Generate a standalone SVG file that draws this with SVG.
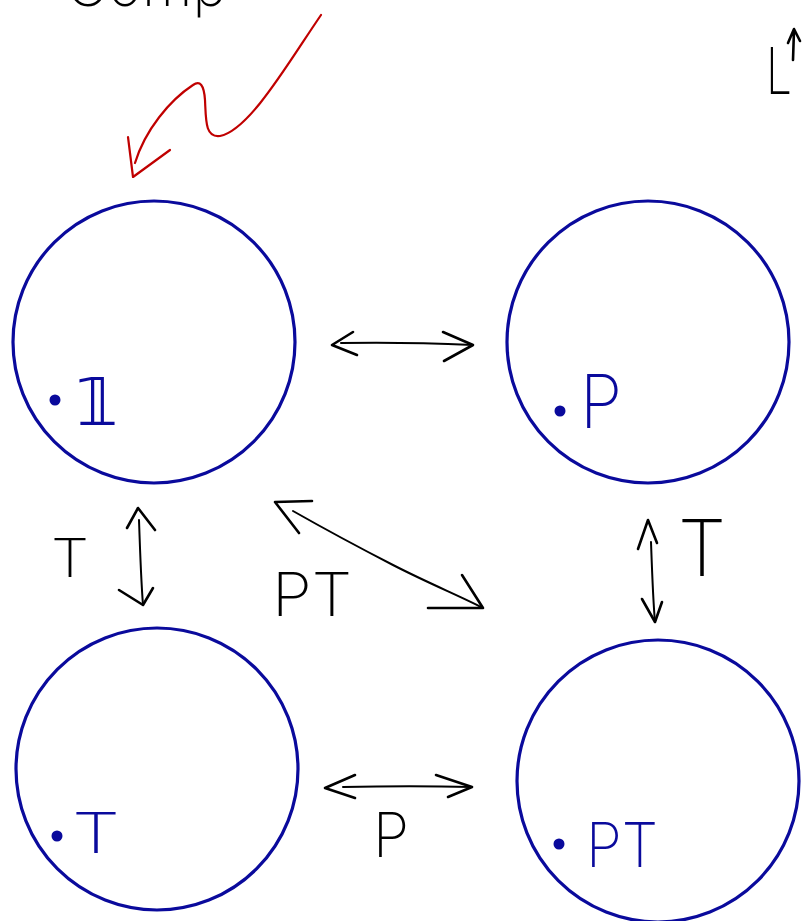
<svg xmlns="http://www.w3.org/2000/svg" width="802" height="921" viewBox="0 0 802 921">
<style>
.node{fill:none;stroke:#0a0a9c;stroke-width:3.2}
.dot{fill:#0a0a9c;stroke:#0a0a9c;stroke-width:3}
.bl{fill:#0a0a9c;font-family:Inter,"Open Sans","Liberation Sans",sans-serif;font-weight:200}
.k{fill:#000;font-family:Inter,"Open Sans","Liberation Sans",sans-serif;font-weight:200}
.c{fill:none;stroke:#000;stroke-width:2;stroke-linecap:round;stroke-linejoin:round}
.h{fill:none;stroke:#000;stroke-width:2.6;stroke-linecap:round;stroke-linejoin:round}
.r{fill:none;stroke:#c00000;stroke-width:2.2;stroke-linecap:round;stroke-linejoin:round}
</style>
<rect width="802" height="921" fill="#fff"/>
<g id="annotations">
<text class="k" x="66" y="6" font-size="58">Comp</text>
<text class="k" x="766" y="94" font-size="64" textLength="26" lengthAdjust="spacingAndGlyphs">L</text>
<path class="h" d="M793,60 L794,30 M788,43 L794,29 L800,41"/>
<path class="r" d="M321,15 C290,60 250,130 220,136 C205,138 206,120 205,100 C204,85 200,80 193,85 C170,100 145,130 135,163"/>
<path class="r" d="M128,137 L133,177 L170,150"/>
</g>
<g id="node-1">
<circle class="node" cx="154" cy="342" r="141"/>
<circle class="dot" cx="55" cy="400" r="4"/>
<text class="bl" x="76" y="425" font-size="66" font-family="DejaVu Sans" font-weight="normal">𝟙</text>
</g>
<g id="node-P">
<circle class="node" cx="648" cy="342" r="141"/>
<circle class="dot" cx="560" cy="411" r="4"/>
<text class="bl" x="580" y="428" font-size="74" textLength="42" lengthAdjust="spacingAndGlyphs">P</text>
</g>
<g id="node-T">
<circle class="node" cx="157" cy="769" r="141"/>
<circle class="dot" cx="57" cy="836" r="4"/>
<text class="bl" x="72" y="853" font-size="56" textLength="48" lengthAdjust="spacingAndGlyphs">T</text>
</g>
<g id="node-PT">
<circle class="node" cx="658" cy="781" r="141"/>
<circle class="dot" cx="559" cy="844" r="4"/>
<text class="bl" x="586" y="867" font-size="62" textLength="72" lengthAdjust="spacingAndGlyphs">PT</text>
</g>
<g id="connectors">
<path class="c" d="M341,343 C390,342 430,343 473,345"/>
<path class="h" d="M353,332 L332,345 L357,355"/>
<path class="h" d="M443,332 L473,345 L444,361"/>
<path class="c" d="M343,787 C390,786 430,786 472,787"/>
<path class="h" d="M355,775 L325,788 L355,798"/>
<path class="h" d="M436,775 L472,787 L448,797"/>
<path class="c" d="M293,511 C330,532 360,548 393,565 C430,584 460,596 483,608"/>
<path class="h" d="M312,501 L275,502 L299,533"/>
<path class="h" d="M462,575 L483,608 L428,608"/>
<path class="c" d="M139,520 C140,550 141,580 143,605"/>
<path class="h" d="M127,528 L138,508 L155,530"/>
<path class="h" d="M119,590 L143,605 L153,588"/>
<path class="c" d="M651,542 C652,570 653,600 655,622"/>
<path class="h" d="M638,549 L648,520 L657,543"/>
<path class="h" d="M642,599 L655,622 L662,602"/>
<text class="k" x="51" y="577" font-size="54" textLength="38" lengthAdjust="spacingAndGlyphs">T</text>
<text class="k" x="272" y="616" font-size="60" textLength="80" lengthAdjust="spacingAndGlyphs">PT</text>
<text class="k" x="373" y="857" font-size="62" textLength="36" lengthAdjust="spacingAndGlyphs">P</text>
<text class="k" x="678" y="576" font-size="78" textLength="48" lengthAdjust="spacingAndGlyphs">T</text>
</g>
</svg>
